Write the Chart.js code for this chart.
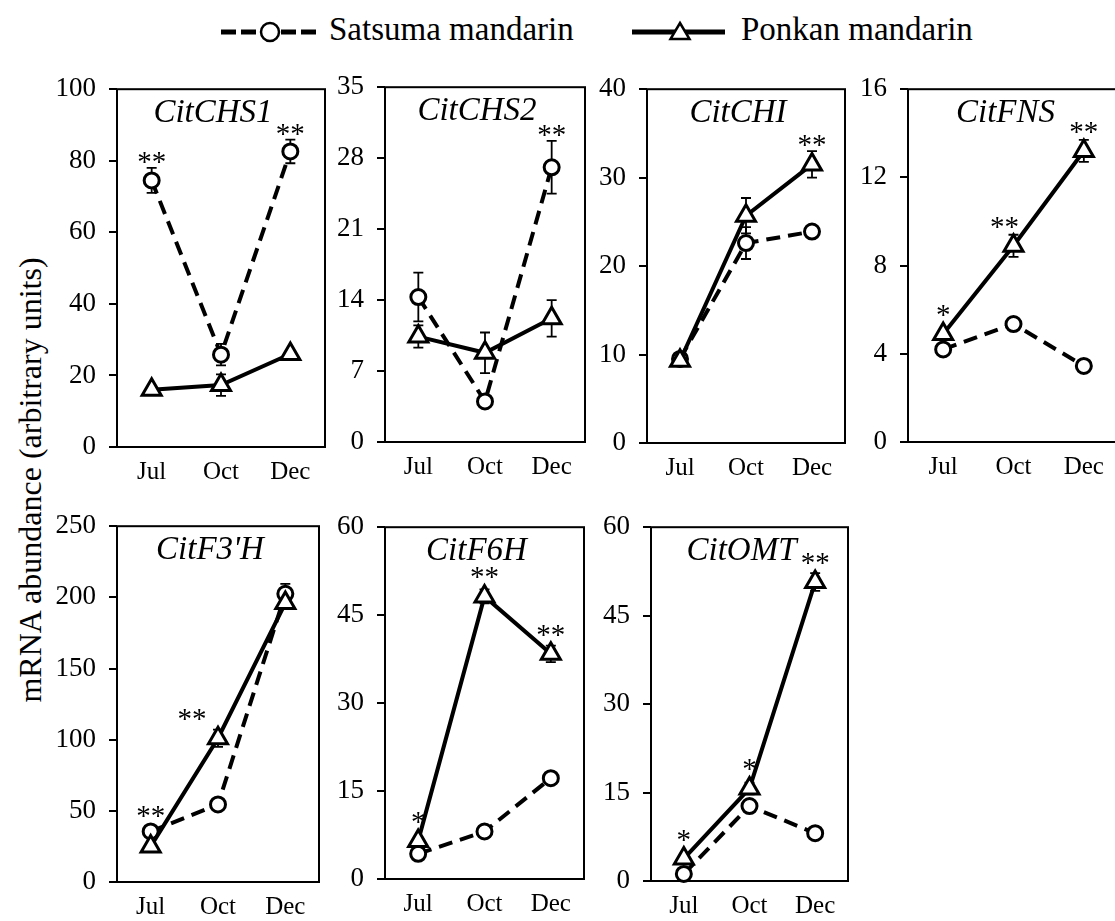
<!DOCTYPE html>
<html>
<head>
<meta charset="utf-8">
<title>Flavonoid gene expression</title>
<script src="https://cdn.jsdelivr.net/npm/chart.js@4.4.1/dist/chart.umd.min.js"></script>
<style>
  html, body { margin: 0; padding: 0; background: #fff; }
  #fig { position: relative; width: 1115px; height: 921px; overflow: hidden;
         font-family: "Liberation Serif", "Times New Roman", serif; color: #000; }
  #fig canvas { position: absolute; }
  .key { position: absolute; top: 0; }
  .keytext { position: absolute; top: -3px; line-height: 64px; font-size: 33px; white-space: nowrap; }
  #ytitle { position: absolute; left: 30px; top: 480px; font-size: 32px; white-space: nowrap;
            transform: translate(-50%, -50%) rotate(-90deg); }
</style>
</head>
<body>
<div id="fig">
  <svg class="key" style="left:215px" width="110" height="64">
    <line x1="6" y1="32" x2="102" y2="32" stroke="#000" stroke-width="5" stroke-dasharray="15 5"/>
    <circle cx="55" cy="32" r="9" fill="#fff" stroke="#000" stroke-width="2.5"/>
  </svg>
  <div class="keytext" style="left:329px">Satsuma mandarin</div>
  <svg class="key" style="left:626px" width="110" height="64">
    <line x1="6" y1="32" x2="99" y2="32" stroke="#000" stroke-width="5"/>
    <polygon points="54,23 63.5,39 44.5,39" fill="#fff" stroke="#000" stroke-width="2.5"/>
  </svg>
  <div class="keytext" style="left:741px">Ponkan mandarin</div>
  <div id="ytitle">mRNA abundance (arbitrary units)</div>
</div>
<script>
// sampling months and genes
const months = ['Jul', 'Oct', 'Dec'];
const genes = ['CitCHS1', 'CitCHS2', 'CitCHI', 'CitFNS', "CitF3'H", 'CitF6H', 'CitOMT'];

// Satsuma mandarin (means and SE), one row per gene
const satsuma = [
  [74.5, 25.8, 82.6],
  [14.3, 4.0, 27.1],
  [9.5, 22.6, 23.9],
  [4.2, 5.35, 3.45],
  [35.5, 54.5, 202.5],
  [4.3, 8.1, 17.2],
  [1.2, 12.7, 8.1]
];
const satsumaErr = [
  [3.5, 3.0, 3.3],
  [2.4, 0.4, 2.6],
  [0.3, 1.8, 0.3],
  [0.15, 0.15, 0.15],
  [3, 3, 7],
  [0.3, 0.3, 0.4],
  [0.3, 0.5, 0.3]
];

// Ponkan mandarin
const ponkan = [
  [16.0, 17.3, 26.0],
  [10.4, 8.8, 12.2],
  [9.3, 25.7, 31.5],
  [4.9, 8.9, 13.2],
  [25, 101, 196],
  [6.5, 48.2, 38.4],
  [3.8, 15.7, 50.7]
];
const ponkanErr = [
  [0.5, 3.0, 0.6],
  [1.1, 2.0, 1.8],
  [0.3, 2.0, 1.5],
  [0.15, 0.5, 0.5],
  [2, 6, 3],
  [0.6, 1.2, 1.4],
  [0.3, 1.0, 1.5]
];

// y axes
const yMax = [100, 35, 40, 16, 250, 60, 60];
const yStep = [20, 7, 10, 4, 50, 15, 15];

// significance marks
const stars = [
  ['**', '', '**'],
  ['', '', '**'],
  ['', '', '**'],
  ['*', '**', '**'],
  ['**', '**', ''],
  ['*', '**', '**'],
  ['*', '*', '**']
];

// plot boxes on the page (the last column runs past the right edge)
const boxes = [
  { x: 117, y: 78, w: 210, h: 369 },
  { x: 385, y: 76, w: 202, h: 366 },
  { x: 647, y: 78, w: 200, h: 365 },
  { x: 908, y: 78, w: 213, h: 364 },
  { x: 117, y: 515, w: 204, h: 367 },
  { x: 385, y: 516, w: 201, h: 363 },
  { x: 651, y: 516, w: 199, h: 365 }
];
const starShift = { 4: [0, -26, 0], 3: [0, -9, 0] };

const AX_W = 80, AX_H = 45, PAD_T = 18, PAD_R = 12;
const serif = '"Liberation Serif", "Times New Roman", serif';

const panelPlugin = {
  id: 'panel',
  beforeDatasetsDraw(chart) {
    const { ctx, chartArea: a } = chart;
    const ys = chart.scales.y;
    ctx.save();
    ctx.strokeStyle = '#000';
    ctx.lineWidth = 2;
    ctx.strokeRect(a.left, a.top, a.right - a.left, a.bottom - a.top);
    // error bars
    ctx.lineWidth = 1.8;
    chart.data.datasets.forEach((ds, di) => {
      chart.getDatasetMeta(di).data.forEach((pt, j) => {
        const e = ds.err[j];
        const y1 = ys.getPixelForValue(ds.data[j] + e);
        const y2 = ys.getPixelForValue(ds.data[j] - e);
        ctx.beginPath();
        ctx.moveTo(pt.x, y1); ctx.lineTo(pt.x, y2);
        ctx.moveTo(pt.x - 5, y1); ctx.lineTo(pt.x + 5, y1);
        ctx.moveTo(pt.x - 5, y2); ctx.lineTo(pt.x + 5, y2);
        ctx.stroke();
      });
    });
    ctx.restore();
  },
  afterDatasetsDraw(chart, args, opts) {
    const { ctx, chartArea: a } = chart;
    const ys = chart.scales.y;
    ctx.save();
    ctx.fillStyle = '#000';
    ctx.textAlign = 'center';
    ctx.textBaseline = 'middle';
    ctx.font = 'italic 33px ' + serif;
    ctx.fillText(opts.title, (a.left + a.right) / 2 - 8, a.top + 24);

    ctx.font = '29px ' + serif;
    ctx.textBaseline = 'alphabetic';
    opts.marks.forEach((s, j) => {
      if (!s) return;
      let top = Infinity, x = 0;
      chart.data.datasets.forEach((ds, di) => {
        const pt = chart.getDatasetMeta(di).data[j];
        x = pt.x;
        top = Math.min(top, ys.getPixelForValue(ds.data[j] + ds.err[j]), pt.y - ds.pointRadius - 2);
      });
      ctx.fillText(s, x + (opts.shift ? opts.shift[j] : 0), top + 3);
    });
    ctx.restore();
  }
};

const fig = document.getElementById('fig');

genes.forEach((gene, i) => {
  const b = boxes[i];
  const canvas = document.createElement('canvas');
  const cw = AX_W + b.w + PAD_R, ch = PAD_T + b.h + AX_H;
  canvas.width = cw; canvas.height = ch;
  canvas.style.left = (b.x - AX_W) + 'px';
  canvas.style.top = (b.y - PAD_T) + 'px';
  canvas.style.width = cw + 'px';
  canvas.style.height = ch + 'px';
  fig.appendChild(canvas);

  new Chart(canvas, {
    type: 'line',
    data: {
      labels: months,
      datasets: [
        {
          label: 'Ponkan mandarin',
          data: ponkan[i],
          err: ponkanErr[i],
          borderColor: '#000',
          borderWidth: 4,
          tension: 0,
          pointStyle: 'triangle',
          pointRadius: 11,
          pointBorderWidth: 3,
          pointBackgroundColor: '#fff',
          pointBorderColor: '#000',
          clip: false
        },
        {
          label: 'Satsuma mandarin',
          data: satsuma[i],
          err: satsumaErr[i],
          borderColor: '#000',
          borderWidth: 4,
          borderDash: [14, 8],
          tension: 0,
          pointStyle: 'circle',
          pointRadius: 7.5,
          pointBorderWidth: 3,
          pointBackgroundColor: '#fff',
          pointBorderColor: '#000',
          clip: false
        }
      ]
    },
    options: {
      responsive: false,
      animation: false,
      devicePixelRatio: 1,
      layout: { padding: { top: PAD_T, right: PAD_R, left: 0, bottom: 0 } },
      plugins: {
        legend: { display: false },
        tooltip: { enabled: false },
        panel: { title: gene, marks: stars[i], shift: starShift[i] }
      },
      scales: {
        x: {
          type: 'category',
          offset: true,
          grid: { display: false, drawTicks: false },
          border: { display: false },
          ticks: { font: { family: serif, size: 25 }, color: '#000', padding: 10, maxRotation: 0 },
          afterFit: s => { s.height = AX_H; }
        },
        y: {
          min: 0,
          max: yMax[i],
          ticks: { stepSize: yStep[i], font: { family: serif, size: 27 }, color: '#000', padding: 13 },
          grid: { drawOnChartArea: false, drawTicks: true, tickLength: 8, color: '#000', lineWidth: 2 },
          border: { display: false },
          afterFit: s => { s.width = AX_W; }
        }
      }
    },
    plugins: [panelPlugin]
  });
});
</script>
</body>
</html>
